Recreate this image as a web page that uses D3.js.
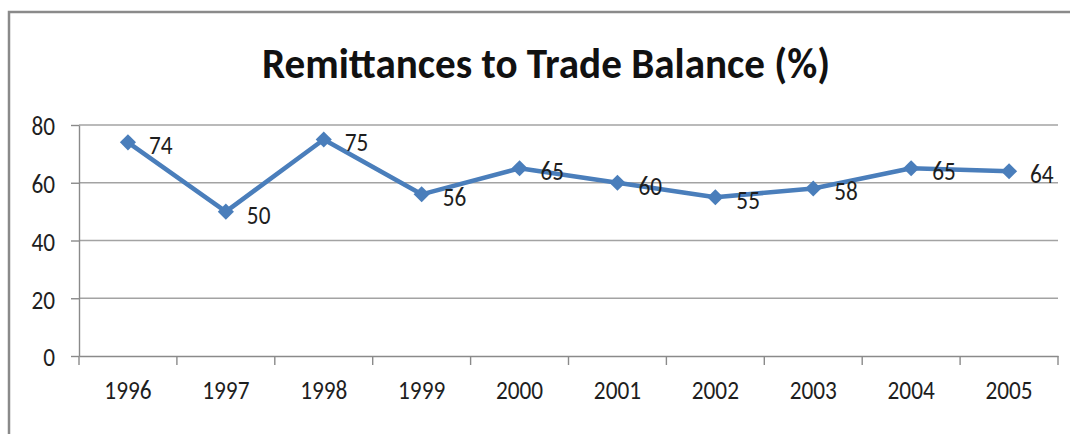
<!DOCTYPE html>
<html>
<head>
<meta charset="utf-8">
<script src="https://cdn.jsdelivr.net/npm/d3@7"></script>
<style>
  html, body { margin: 0; padding: 0; background: #fff; }
  svg { display: block; }
  text { font-family: Carlito, Lato, "Open Sans", sans-serif; }
</style>
</head>
<body>
<svg id="chart" width="1070" height="434"></svg>
<script>
// Remittances as a share of the trade balance, by year
const years = ["1996", "1997", "1998", "1999", "2000", "2001", "2002", "2003", "2004", "2005"];
const remittancePct = [74, 50, 75, 56, 65, 60, 55, 58, 65, 64];
const yTicks = [0, 20, 40, 60, 80];
const titleText = "Remittances to Trade Balance (%)";

const svg = d3.select("#chart");
const W = 1070, H = 434;
const plot = { left: 79, right: 1058, top: 125, bottom: 356 };
const lineColor = "#4a7ebb";
const textColor = "#1e1e1e";
const digitWidth = 11.8;   // advance per digit for the numeric labels
const labelSize = 27.5;

// fit numeric text to a fixed advance per character (narrow-figure look)
function fitDigits(sel) {
  sel.each(function () {
    const n = this.textContent.length;
    this.setAttribute("textLength", (n * digitWidth).toFixed(1));
    this.setAttribute("lengthAdjust", "spacingAndGlyphs");
  });
}

// outer chart frame (left and top edges)
svg.append("path")
  .attr("d", `M9,${H} L9,12 L${W},12`)
  .attr("fill", "none")
  .attr("stroke", "#8a8a8a")
  .attr("stroke-width", 2.5);

// title
svg.append("text")
  .attr("x", 546).attr("y", 78)
  .attr("text-anchor", "middle")
  .attr("font-size", 43)
  .attr("font-weight", "bold")
  .attr("fill", "#111")
  .attr("textLength", 568)
  .attr("lengthAdjust", "spacingAndGlyphs")
  .text(titleText);

const x = d3.scaleBand().domain(years).range([plot.left, plot.right]);
const y = d3.scaleLinear().domain([0, 80]).range([plot.bottom, plot.top]);

// horizontal gridlines
svg.append("g")
  .selectAll("line")
  .data(yTicks.filter(t => t > 0))
  .join("line")
  .attr("x1", plot.left).attr("x2", plot.right)
  .attr("y1", d => y(d)).attr("y2", d => y(d))
  .attr("stroke", "#a3a3a3")
  .attr("stroke-width", 1.4);

// y axis
const yAxis = svg.append("g")
  .attr("transform", `translate(${plot.left},0)`)
  .call(d3.axisLeft(y).tickValues(yTicks).tickSize(8).tickPadding(16).tickSizeOuter(0));
yAxis.select(".domain").attr("stroke", "#8a8a8a").attr("stroke-width", 1.4);
yAxis.selectAll(".tick line").attr("stroke", "#8a8a8a").attr("stroke-width", 1.4);
yAxis.selectAll(".tick text")
  .attr("font-size", labelSize)
  .attr("fill", textColor)
  .attr("dy", "0.36em");
fitDigits(yAxis.selectAll(".tick text"));

// x axis with tick marks on category boundaries
const xAxis = svg.append("g")
  .attr("transform", `translate(0,${plot.bottom})`)
  .call(d3.axisBottom(x).tickSize(0).tickPadding(33));
xAxis.select(".domain").attr("stroke", "#8a8a8a").attr("stroke-width", 1.4);
xAxis.selectAll(".tick text")
  .attr("font-size", labelSize)
  .attr("fill", textColor)
  .attr("dy", "0.36em");
fitDigits(xAxis.selectAll(".tick text"));

const boundaries = years.map(d => x(d)).concat([x(years[years.length - 1]) + x.bandwidth()]);
svg.append("g")
  .selectAll("line")
  .data(boundaries)
  .join("line")
  .attr("x1", d => d).attr("x2", d => d)
  .attr("y1", plot.bottom).attr("y2", plot.bottom + 9)
  .attr("stroke", "#8a8a8a")
  .attr("stroke-width", 1.4);

// series line
const pts = years.map((yr, i) => ({ yr, v: remittancePct[i] }));
const cx = d => x(d.yr) + x.bandwidth() / 2;

svg.append("path")
  .datum(pts)
  .attr("fill", "none")
  .attr("stroke", lineColor)
  .attr("stroke-width", 4.5)
  .attr("stroke-linejoin", "round")
  .attr("d", d3.line().x(cx).y(d => y(d.v)));

// diamond markers
svg.append("g")
  .selectAll("path")
  .data(pts)
  .join("path")
  .attr("transform", d => `translate(${cx(d)},${y(d.v)}) rotate(45)`)
  .attr("d", d3.symbol(d3.symbolSquare, 130)())
  .attr("fill", lineColor);

// value labels to the right of each point
const labels = svg.append("g")
  .selectAll("text")
  .data(pts)
  .join("text")
  .attr("x", d => cx(d) + 21)
  .attr("y", d => y(d.v) + 2)
  .attr("dy", "0.36em")
  .attr("font-size", labelSize)
  .attr("fill", textColor)
  .text(d => d.v);
fitDigits(labels);
</script>
</body>
</html>
